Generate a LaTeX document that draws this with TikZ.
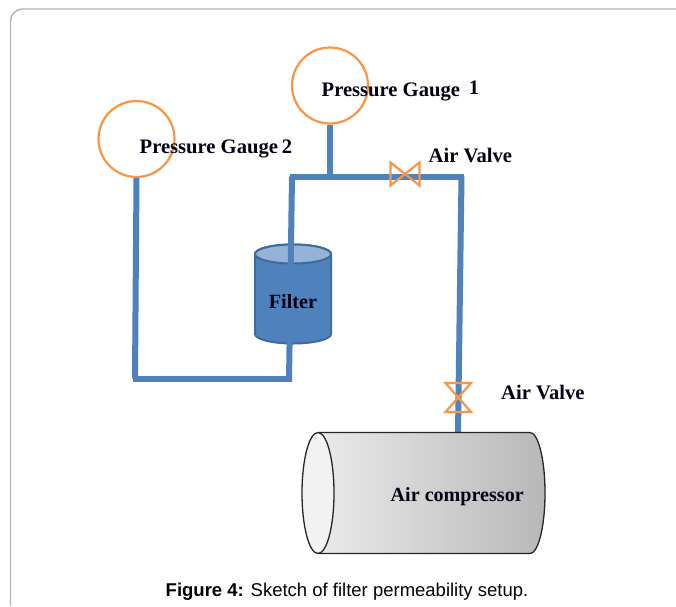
\documentclass[tikz,border=0pt]{standalone}
\usepackage{fontspec}
\setmainfont{Liberation Serif}
\newfontfamily\capfont{Liberation Sans}
\usetikzlibrary{calc}
\definecolor{pipeblue}{HTML}{4F81BD}
\definecolor{filtertop}{HTML}{95B3D7}
\definecolor{filteredge}{HTML}{3F6A9C}
\definecolor{valveorange}{HTML}{F79646}
\definecolor{framegray}{HTML}{B4B4B4}
\tikzset{
  pipe/.style={draw=pipeblue,line width=6pt},
  gauge/.style={circle,draw=valveorange,line width=2.2pt,minimum size=76pt,inner sep=0pt},
  valve/.style={draw=valveorange,line width=2.2pt,line join=miter},
  lbl/.style={inner sep=0pt,font=\fontsize{20.6pt}{23pt}\selectfont\bfseries,text=black!92!blue},
}
\begin{document}
\begin{tikzpicture}[x=1pt,y=-1pt]
\useasboundingbox (0,0) rectangle (676,606);
\fill[white] (0,0) rectangle (676,606);
% page frame
\draw[framegray,line width=1.4pt] (10.5,606) -- (10.5,21) arc[start angle=180,end angle=270,radius=12] -- (676,9);
% named pipe points
\coordinate (jl) at (289.5,176.5);
\coordinate (jm) at (330,176.5);
\coordinate (jr) at (464,176.5);
\coordinate (rt) at (461.5,176.5);
\coordinate (rb) at (458,433);
\coordinate (lt) at (292,176.5);
\coordinate (lb) at (289,381);
\coordinate (bl) at (132.5,378.5);
\coordinate (br) at (291.5,378.5);
\coordinate (sb) at (135,378.5);
% filter
\path[fill=pipeblue,draw=filteredge,line width=2pt]
  (255,254) -- (255,334) arc[start angle=180,end angle=0,x radius=38,y radius=9.5] -- (331,254)
  arc[start angle=0,end angle=-180,x radius=38,y radius=9.5] -- cycle;
\path[fill=filtertop,draw=filteredge,line width=2pt] (293,254) ellipse[x radius=38,y radius=9.5];
% gauges
\node[gauge] (g1) at (330,85.5) {};
\node[gauge] (g2) at (136.5,139) {};
% pipes
\draw[pipe] (g1.south) -- (jm);
\draw[pipe] (jl) -- (jr);
\draw[pipe] (rt) -- (rb);
\draw[pipe] (lt) -- (lb);
\draw[pipe] (br) -- (bl);
\draw[pipe] (g2.south) -- (sb);
% compressor
\shade[left color=white!93!black,right color=black!28!white]
  (318,432.5) -- (530,432.5) arc[start angle=-90,end angle=90,x radius=15,y radius=60.5] -- (318,553.5)
  arc[start angle=90,end angle=270,x radius=16,y radius=60.5] -- cycle;
\draw[black!85,line width=1.3pt]
  (318,432.5) -- (530,432.5) arc[start angle=-90,end angle=90,x radius=15,y radius=60.5] -- (318,553.5);
\path[fill=black!5,draw=black!85,line width=1.3pt] (318,493) ellipse[x radius=16,y radius=60.5];
% valves
\draw[valve] (390.5,162.5) -- (419.5,185.5) -- (419.5,162.5) -- (390.5,185.5) -- cycle;
\draw[valve] (445.5,383) -- (471,383) -- (445.5,412) -- (471,412) -- cycle;
% labels
\node[lbl,anchor=west] (t1) at (321.5,90.5) {Pressure Gauge\hspace{9pt}\raisebox{2pt}{1}};
\node[lbl,anchor=west] (t2) at (139.5,148.5) {Pressure Gauge\hspace{4pt}2};
\node[lbl,anchor=west] (t3) at (428.5,155.5) {Air Valve};
\node[lbl,anchor=west] (t4) at (501,392) {Air Valve};
\node[lbl,font=\fontsize{20.2pt}{23pt}\selectfont\bfseries] (t5) at (293,301.5) {Filter};
\node[lbl,anchor=west,font=\fontsize{20.1pt}{23pt}\selectfont\bfseries] (t6) at (390.5,496.5) {Air compressor};
\node[inner sep=0pt,font=\fontsize{18.5pt}{21pt}\selectfont\capfont] (cap) at (347,592) {\textbf{Figure 4:} Sketch of filter permeability setup.};
\end{tikzpicture}
\end{document}
